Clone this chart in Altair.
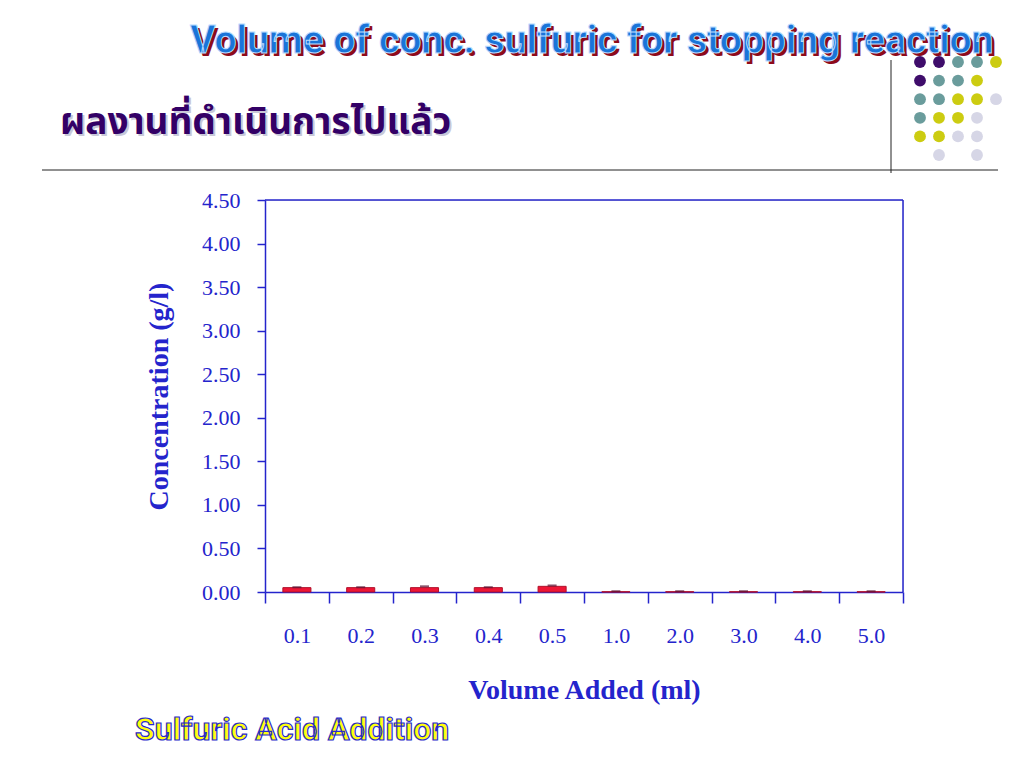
import altair as alt
import pandas as pd

# ---- data ----
volumes = ["0.1", "0.2", "0.3", "0.4", "0.5", "1.0", "2.0", "3.0", "4.0", "5.0"]
concentration = [0.05, 0.05, 0.05, 0.05, 0.065, 0.003, 0.003, 0.003, 0.003, 0.003]
error = [0.005, 0.005, 0.015, 0.005, 0.01, 0.006, 0.006, 0.006, 0.006, 0.006]
y_ticks = [0.0, 0.5, 1.0, 1.5, 2.0, 2.5, 3.0, 3.5, 4.0, 4.5]

title_text = "Volume of conc. sulfuric for stopping reaction"
thai_text = "ผลงานที่ดำเนินการไปแล้ว"
footer_text = "Sulfuric Acid Addition"
x_title = "Volume Added (ml)"
y_title = "Concentration (g/l)"

# decorative dot grid (rows of colour codes, "" = empty)
dot_rows = [
    ["P", "P", "T", "T", "Y"],
    ["P", "T", "T", "Y", ""],
    ["T", "T", "Y", "Y", "L"],
    ["T", "Y", "Y", "L", ""],
    ["Y", "Y", "L", "L", ""],
    ["", "L", "", "L", ""],
]
dot_colors = {"P": "#3F0D6B", "T": "#6A9C9C", "Y": "#CCCC11", "L": "#D6D6E6"}

BLUE = "#2424CC"
W, H = 638, 392
OX, OY = 265, 200  # page position of plot origin

df = pd.DataFrame({"vol": volumes, "conc": concentration, "err": error})
df["top"] = df["conc"] + df["err"]

xenc = alt.X("vol:N", sort=volumes,
             scale=alt.Scale(paddingInner=0, paddingOuter=0),
             axis=alt.Axis(title=x_title, tickBand="extent", labelAngle=0,
                           labelFont="Liberation Serif", labelFontSize=22,
                           labelColor=BLUE, labelPadding=22, tickSize=11,
                           tickColor=BLUE, domainColor=BLUE, tickWidth=1.5,
                           domainWidth=1.5,
                           titleFont="Liberation Serif", titleFontSize=28,
                           titleFontWeight="bold", titleColor=BLUE,
                           titlePadding=30))
yenc = alt.Y("conc:Q", scale=alt.Scale(domain=[0, 4.5], nice=False),
             axis=alt.Axis(title=y_title, values=y_ticks, format=".2f",
                           grid=False, labelFont="Liberation Serif",
                           labelFontSize=22, labelColor=BLUE, labelPadding=17,
                           tickSize=8, tickColor=BLUE, domainColor=BLUE,
                           tickWidth=1.5, domainWidth=1.5,
                           titleFont="Liberation Serif", titleFontSize=28,
                           titleFontWeight="bold", titleColor=BLUE,
                           titlePadding=28))

bars = alt.Chart(df).mark_bar(width={"band": 0.44}, color="#EE1535",
                              stroke="#B0102A", strokeWidth=1).encode(x=xenc, y=yenc)
caps = alt.Chart(df).mark_tick(color="#5A1030", thickness=2, size=9).encode(
    x=alt.X("vol:N", sort=volumes), y=alt.Y("top:Q"))
main = alt.layer(bars, caps)

# frame (top and right edges of the plot box)
one = pd.DataFrame({"a": [0]})
frame_top = alt.Chart(one).mark_rule(color=BLUE, strokeWidth=1.5).encode(
    x=alt.value(0), x2=alt.value(W), y=alt.value(0))
frame_right = alt.Chart(one).mark_rule(color=BLUE, strokeWidth=1.5).encode(
    x=alt.value(W), y=alt.value(0), y2=alt.value(H))

# decorations in pixel coordinates relative to the plot origin
dots = []
for r, row in enumerate(dot_rows):
    for c, code in enumerate(row):
        if code:
            dots.append({"px": 920 + c * 19 - OX, "py": 62 + r * 18.6 - OY,
                         "col": dot_colors[code]})
ddf = pd.DataFrame(dots)
dot_layer = alt.Chart(ddf).mark_circle(size=140, opacity=1).encode(
    x=alt.X("px:Q", scale=None, axis=None),
    y=alt.Y("py:Q", scale=None, axis=None),
    color=alt.Color("col:N", scale=None))

hline = alt.Chart(one).mark_rule(color="#222222", strokeWidth=1).encode(
    x=alt.value(42 - OX), x2=alt.value(998 - OX), y=alt.value(170 - OY))
vline = alt.Chart(one).mark_rule(color="#222222", strokeWidth=1).encode(
    x=alt.value(891 - OX), y=alt.value(60 - OY), y2=alt.value(173 - OY))

def text_layer(txt, x, y, **kw):
    return alt.Chart(pd.DataFrame({"t": [txt]})).mark_text(**kw).encode(
        text="t:N", x=alt.value(x - OX), y=alt.value(y - OY))

cond = "Roboto, Liberation Sans, sans-serif"
thai_font = "Noto Sans Thai, Loma, Garuda, Noto Sans, sans-serif"
title_shadow = text_layer(title_text, 193, 56, align="left", baseline="alphabetic",
                          font=cond, fontSize=39, fontWeight="bold", color="#8E0A1A")
title_main = text_layer(title_text, 190, 53, align="left", baseline="alphabetic",
                        font=cond, fontSize=39, fontWeight="bold", color="#1A74D8",
                        stroke="#B8DCFF", strokeWidth=1)
thai_shadow = text_layer(thai_text, 62, 136, align="left", baseline="alphabetic",
                         font=thai_font, fontSize=37, fontWeight="bold", color="#C8C8D8")
thai = text_layer(thai_text, 60, 134, align="left", baseline="alphabetic",
                  font=thai_font, fontSize=37, fontWeight="bold", color="#330066")
footer = text_layer(footer_text, 135, 740, align="left", baseline="alphabetic",
                    font=cond, fontSize=32, fontWeight="bold", color="#FFFF10",
                    stroke="#2A2ACC", strokeWidth=1.2)

chart = alt.layer(
    main, frame_top, frame_right, dot_layer, hline, vline,
    title_shadow, title_main, thai_shadow, thai, footer
).resolve_scale(x="independent", y="independent").properties(
    width=W, height=H,
    padding={"left": OX - 8, "top": OY - 8, "right": 1008 - OX - W, "bottom": 165},
    autosize=alt.AutoSizeParams(type="none"),
).configure_view(stroke=None).configure(background="white")

chart.save("out.html", embed_options={"renderer": "svg", "actions": False})
